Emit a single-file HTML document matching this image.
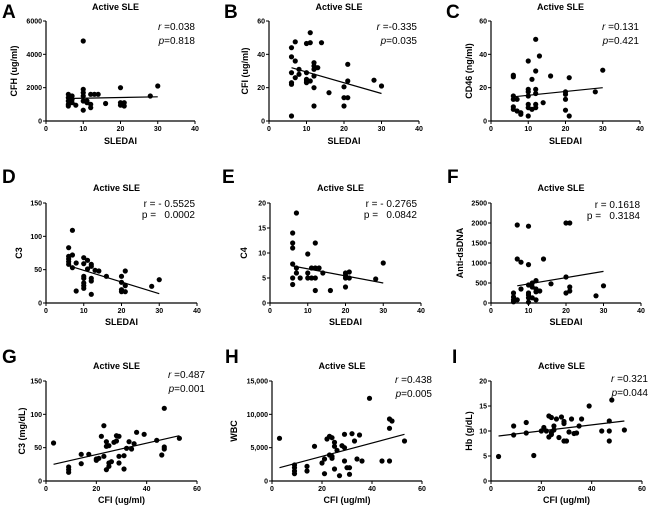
<!DOCTYPE html>
<html><head><meta charset="utf-8"><style>
body{margin:0;background:#fff;}
svg{display:block;font-family:"Liberation Sans",Arial,sans-serif;}
.tk{font-size:7px;font-weight:bold;}
.tt{font-size:9px;font-weight:bold;}
.at{font-size:9px;font-weight:bold;}
.st{font-size:10px;}
.lt{font-size:19px;font-weight:bold;}
</style></head><body>
<svg id="fig" width="650" height="505" viewBox="0 0 650 505"></svg>
<script>
// Panel A: SLEDAI vs CFH
const aX=[10,30,20,28,6,6,6,6,7,7,8,10,10,10,10,10,11,11,12,12,13,14,12,16,20,20,21,21,6,7];
const aY=[4800,2100,2000,1500,1600,1400,1200,1000,1300,1100,950,1900,1700,1500,1200,650,1200,1100,1000,800,1600,1600,1600,1050,1100,950,1100,900,900,1500];
const aFit=[6,1350,30,1450];
// Panel B: SLEDAI vs CFI
const bX=[6,6,7,6,6,6,6,7,7,8,8,10,10,10,10,10,11,11,11,12,12,12,12,12,12,13,14,16,20,20,20,21,21,21,28,30];
const bY=[44,38.5,47.5,29,23,22,3,36,26,31,28,46.5,29,25,24,23,53,47,24,35,33,31,27,20,9,32,47,17,20.5,14,9,34,24,14,24.5,21];
const bFit=[6,32,30,16.5];
// Panel C: SLEDAI vs CD46
const cX=[6,6,6,6,6,6,7,7,8,8,10,10,10,10,10,10,10,11,11,12,12,12,12,12,12,13,14,16,20,20,20,20,21,21,28,30];
const cY=[27.5,26.5,15,13,8.5,7,13,6,5,4,36,19,17.5,15,10,8,3,25,7,49,30,19,16.5,10,8,39,11,27,17.5,16,13,6.5,26,3,17.5,30.5];
const cFit=[6,14.5,30,20];
// Panel D: SLEDAI vs C3
const dX=[6,6,6,6,6,7,7,7,8,8,10,10,10,10,10,10,10,11,11,12,12,12,12,12,13,14,16,20,20,20,20,21,21,21,28,30];
const dY=[83,70,66,62,58,109,72,53,60,18,68,59,40,37,30,26,22,64,51,58,55,37,33,13,49,48,40,40,31,20,17,48,26,17,25,35];
const dFit=[6,56,30,14];
// Panel E: SLEDAI vs C4
const eX=[6,6,6,6,6,6,7,7,7,8,10,10,10,11,11,12,12,12,12,13,14,16,20,20,20,20,21,21,28,30];
const eY=[14,12,11,7.8,5,3.7,18,7,6,5,9.8,6,5,7,5,12,7,5,2.5,7,6,2.5,6,5.5,5,3.2,6.2,5,4.8,8];
const eFit=[6,7.4,30,4];
// Panel F: SLEDAI vs Anti-dsDNA
const fX=[6,6,6,6,7,7,7,8,8,10,10,10,10,10,10,10,11,11,11,12,12,12,12,13,14,16,20,20,20,21,21,21,28,30];
const fY=[250,150,80,30,1950,1100,80,1020,350,1920,960,450,250,200,130,20,500,400,130,560,350,280,80,300,1100,480,2000,650,250,2000,400,300,180,430];
const fFit=[7,430,30,790];
// Panel G: CFI vs C3
const gX=[3,9,9,9,14,14,17,20,20,21,22,23,23,24,24,24,25,25,25,26,27,28,28,29,29,29,31,31,32,33,34,35,36,39,44,46,47,47,47,53];
const gY=[57,21,17,13,40,26,40,33,31,34,67,37,83,59,52,17,53,22,27,29,58,60,68,37,27,67,18,38,49,59,48,56,73,70,61,39,48,51,109,64];
const gFit=[3,25,53,68];
// Panel H: CFI vs WBC
const hX=[3,9,9,9,9,14,14,17,20,21,21,22,23,23,24,24,24,25,25,25,26,27,28,29,29,29,30,31,31,32,33,34,35,36,39,44,47,47,47,48,53];
const hY=[6400,2400,2000,1500,1100,2200,1500,5200,2700,3300,1100,6300,3900,6700,6500,3700,3400,5800,5200,1800,4600,800,5300,7000,5000,3000,2000,1000,2000,7100,6000,3300,6900,3000,12400,3000,9300,7900,3000,9000,6000];
const hFit=[3,2000,53,7000];
// Panel I: CFI vs Hb
const iX=[3,9,9,14,14,17,20,21,22,23,23,24,24,24,25,25,26,27,28,29,29,29,30,31,32,33,34,35,36,39,44,47,47,47,48,53];
const iY=[4.9,11,9.2,11.7,9.6,5.1,10,10.7,10,8.8,13,12.7,9.3,9.7,11,10.2,12.4,8.7,12.8,11.9,11.5,8,8,9.8,12.4,9.5,9.6,11,12.4,15,10,12,8,10,16.2,10.2];
const iFit=[3,9,53,12];

const xTicksS=[0,10,20,30,40];
const xTicksC=[0,20,40,60];

const NS='http://www.w3.org/2000/svg';
const svg=document.getElementById('fig');
function mk(tag,attrs,parent,text){const e=document.createElementNS(NS,tag);for(const k in attrs)e.setAttribute(k,attrs[k]);if(text!==undefined)e.textContent=text;(parent||svg).appendChild(e);return e;}

const panels=[
 {id:'a',L:'A',lx:2,ly:18,X:aX,Y:aY,F:aFit,x0:46,x1:195,y0:121,y1:21,xmax:40,ymax:6000,xt:xTicksS,yt:[0,2000,4000,6000],ytl:['0','2000','4000','6000'],tty:10,xtitle:'SLEDAI',xty:144,ytitle:'CFH (ug/ml)',ytx:17,it:true,r:'0.038',p:'0.818',sx:195,sy:30},
 {id:'b',L:'B',lx:224,ly:18,X:bX,Y:bY,F:bFit,x0:269,x1:419,y0:121,y1:21,xmax:40,ymax:60,xt:xTicksS,yt:[0,20,40,60],ytl:['0','20','40','60'],tty:10,xtitle:'SLEDAI',xty:144,ytitle:'CFI (ug/ml)',ytx:248,it:true,r:'-0.335',p:'0.035',sx:417,sy:30},
 {id:'c',L:'C',lx:446,ly:18,X:cX,Y:cY,F:cFit,x0:491,x1:640,y0:121,y1:21,xmax:40,ymax:60,xt:xTicksS,yt:[0,20,40,60],ytl:['0','20','40','60'],tty:10,xtitle:'SLEDAI',xty:144,ytitle:'CD46 (ng/ml)',ytx:472,it:true,r:'0.131',p:'0.421',sx:639,sy:30},
 {id:'d',L:'D',lx:2,ly:183,X:dX,Y:dY,F:dFit,x0:46,x1:197,y0:303,y1:203,xmax:40,ymax:150,xt:xTicksS,yt:[0,50,100,150],ytl:['0','50','100','150'],tty:191,xtitle:'SLEDAI',xty:325,ytitle:'C3',ytx:22,it:false,r:'- 0.5525',p:'0.0002',sx:195,sy:207},
 {id:'e',L:'E',lx:222,ly:183,X:eX,Y:eY,F:eFit,x0:270,x1:421,y0:303,y1:203,xmax:40,ymax:20,xt:xTicksS,yt:[0,5,10,15,20],ytl:['0','5','10','15','20'],tty:191,xtitle:'SLEDAI',xty:325,ytitle:'C4',ytx:247,it:false,r:'- 0.2765',p:'0.0842',sx:417,sy:207},
 {id:'f',L:'F',lx:447,ly:183,X:fX,Y:fY,F:fFit,x0:491,x1:641,y0:303,y1:203,xmax:40,ymax:2500,xt:xTicksS,yt:[0,500,1000,1500,2000,2500],ytl:['0','500','1000','1500','2000','2500'],tty:191,xtitle:'SLEDAI',xty:325,ytitle:'Anti-dsDNA',ytx:463,it:false,r:'0.1618',p:'0.3184',sx:640,sy:208},
 {id:'g',L:'G',lx:2,ly:363,X:gX,Y:gY,F:gFit,x0:46,x1:197,y0:481,y1:381,xmax:60,ymax:150,xt:xTicksC,yt:[0,50,100,150],ytl:['0','50','100','150'],tty:369,xtitle:'CFI (ug/ml)',xty:503,ytitle:'C3 (mg/dL)',ytx:25,it:true,r:'0.487',p:'0.001',sx:205,sy:378},
 {id:'h',L:'H',lx:225,ly:363,X:hX,Y:hY,F:hFit,x0:272,x1:422,y0:481,y1:381,xmax:60,ymax:15000,xt:xTicksC,yt:[0,5000,10000,15000],ytl:['0','5,000','10,000','15,000'],tty:369,xtitle:'CFI (ug/ml)',xty:503,ytitle:'WBC',ytx:237,it:true,r:'0.438',p:'0.005',sx:432,sy:383},
 {id:'i',L:'I',lx:452,ly:363,X:iX,Y:iY,F:iFit,x0:491,x1:642,y0:481,y1:381,xmax:60,ymax:20,xt:xTicksC,yt:[0,5,10,15,20],ytl:['0','5','10','15','20'],tty:369,xtitle:'CFI (ug/ml)',xty:503,ytitle:'Hb (g/dL)',ytx:472,it:true,r:'0.321',p:'0.044',sx:648,sy:382}
];

panels.forEach(P=>{
 const g=mk('g',{});
 
 
 const sx=v=>P.x0+(v/P.xmax)*(P.x1-P.x0);
 const sy=v=>P.y0-(v/P.ymax)*(P.y0-P.y1);
 const cx=(P.x0+P.x1)/2;
 const lt=mk('text',{x:P.lx,y:P.ly,class:'lt'},g,P.L);
 
 
 const tt=mk('text',{x:cx-5,y:P.tty,class:'tt','text-anchor':'middle'},g,'Active SLE');
 
 
 const ax=mk('path',{d:`M${P.x0},${P.y1}V${P.y0}H${P.x1}`,stroke:'#000','stroke-width':1.2,fill:'none'},g);
 
 
 P.xt.forEach(t=>{
  mk('line',{x1:sx(t),x2:sx(t),y1:P.y0,y2:P.y0+3,stroke:'#000','stroke-width':1},g);
  const l=mk('text',{x:sx(t),y:P.y0+10,class:'tk','text-anchor':'middle'},g,String(t));
  
  
 });
 P.yt.forEach((t,k)=>{
  mk('line',{x1:P.x0-3,x2:P.x0,y1:sy(t),y2:sy(t),stroke:'#000','stroke-width':1},g);
  const l=mk('text',{x:P.x0-4,y:sy(t)+2.5,class:'tk','text-anchor':'end'},g,P.ytl[k]);
  
  
 });
 const xt=mk('text',{x:cx,y:P.xty,class:'at','text-anchor':'middle'},g,P.xtitle);
 
 
 const ym=(P.y0+P.y1)/2;
 const yt=mk('text',{x:P.ytx,y:ym,class:'at','text-anchor':'middle',transform:`rotate(-90 ${P.ytx} ${ym})`},g,P.ytitle);
 
 
 P.X.forEach((v,k)=>{
  const c=mk('circle',{cx:sx(v),cy:sy(P.Y[k]),r:2.6,fill:'#000'},g);
  
  
 });
 const fl=mk('line',{x1:sx(P.F[0]),y1:sy(P.F[1]),x2:sx(P.F[2]),y2:sy(P.F[3]),stroke:'#000','stroke-width':1.2},g);
 
 
 let s1,s2;
 if(P.it){
  s1=mk('text',{x:P.sx,y:P.sy,class:'st','text-anchor':'end'},g);
  mk('tspan',{'font-style':'italic'},s1,'r');mk('tspan',{},s1,' ='+P.r);
  s2=mk('text',{x:P.sx,y:P.sy+14,class:'st','text-anchor':'end'},g);
  mk('tspan',{'font-style':'italic'},s2,'p');mk('tspan',{},s2,'='+P.p);
 } else {
  s1=mk('text',{x:P.sx,y:P.sy,class:'st','text-anchor':'end'},g,'r = '+P.r);
  s2=mk('text',{x:P.sx,y:P.sy+11,class:'st','text-anchor':'end'},g,'p =   '+P.p);
  s2.setAttribute('xml:space','preserve');s2.style.whiteSpace='pre';
 }
 
 
 
 
});
</script>
</body></html>
